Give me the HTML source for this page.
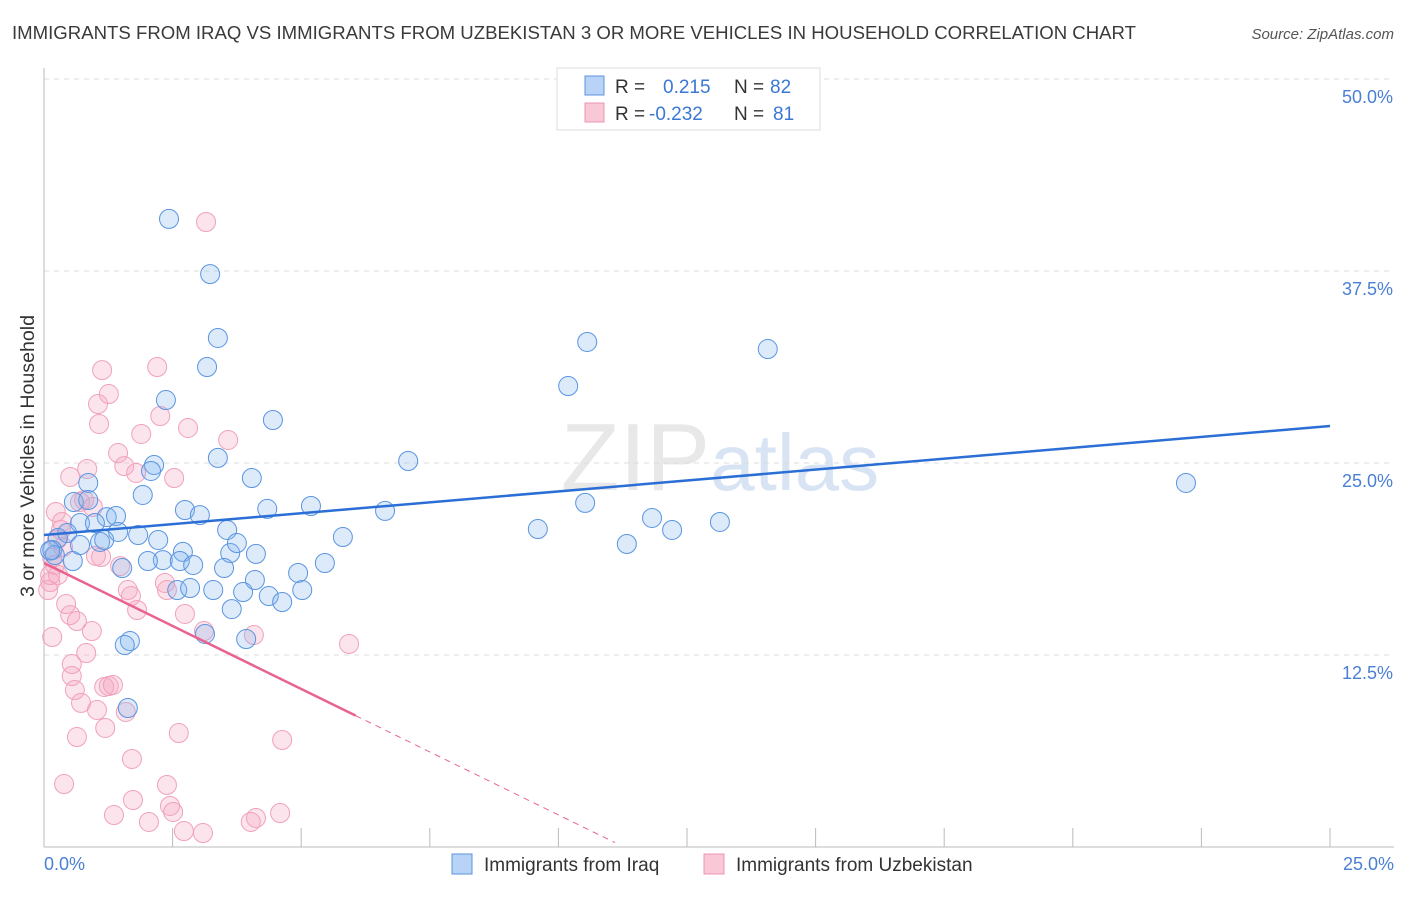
<!DOCTYPE html>
<html><head><meta charset="utf-8"><style>
body{margin:0;background:#fff;font-family:"Liberation Sans",sans-serif}
svg text{font-family:"Liberation Sans",sans-serif}
</style></head><body>
<svg id="chart" width="1406" height="892" xmlns="http://www.w3.org/2000/svg">
<text x="12" y="39" font-size="18.6" fill="#3a3a3a">IMMIGRANTS FROM IRAQ VS IMMIGRANTS FROM UZBEKISTAN 3 OR MORE VEHICLES IN HOUSEHOLD CORRELATION CHART</text>
<text x="1394" y="39" font-size="15" fill="#555" text-anchor="end" font-style="italic">Source: ZipAtlas.com</text>
<text x="720" y="490" font-size="96" fill="#e8e8e8" text-anchor="middle" font-family="Liberation Serif">ZIP<tspan fill="#d8e4f4" font-family="Liberation Sans" font-size="80">atlas</tspan></text>
<g id="grid"></g><g id="axes"></g><g id="marks"></g>
<text transform="translate(34,456) rotate(-90)" font-size="19.6" fill="#333" text-anchor="middle">3 or more Vehicles in Household</text>
<g>
<rect x="557" y="68" width="263" height="62" fill="#fff" stroke="#ddd"/>
<rect x="585" y="76" width="19" height="19" fill="#b8d3f5" stroke="#5b93dd"/>
<rect x="585" y="103" width="19" height="19" fill="#f9c8d6" stroke="#ec95b0"/>
<text x="615" y="93" font-size="19" fill="#333">R =</text><text x="663" y="93" font-size="19" fill="#3a78d4">0.215</text>
<text x="734" y="93" font-size="19" fill="#333">N =</text><text x="770" y="93" font-size="19" fill="#3a78d4">82</text>
<text x="615" y="120" font-size="19" fill="#333">R =</text><text x="649" y="120" font-size="19" fill="#3a78d4">-0.232</text>
<text x="734" y="120" font-size="19" fill="#333">N =</text><text x="773" y="120" font-size="19" fill="#3a78d4">81</text>
</g>
<g>
<rect x="452" y="854" width="20" height="20" fill="#b8d3f5" stroke="#5b93dd"/>
<text x="484" y="871" font-size="19" fill="#333">Immigrants from Iraq</text>
<rect x="704" y="854" width="20" height="20" fill="#f9c8d6" stroke="#ec95b0"/>
<text x="736" y="871" font-size="19" fill="#333">Immigrants from Uzbekistan</text>
</g>
</svg>
<script>
const iraqX=[2.43,3.23,3.38,3.17,2.37,4.45,3.38,4.04,2.14,2.08,1.92,0.86,0.58,0.86,1.22,1.40,0.70,0.99,0.45,0.27,0.16,0.21,0.56,0.70,1.09,1.17,1.44,1.83,2.22,2.74,3.03,3.56,4.34,5.19,5.81,6.63,7.08,9.60,10.52,10.19,10.56,14.07,11.82,12.21,13.14,11.33,22.20,3.62,4.12,2.70,2.31,2.64,2.90,2.02,1.52,3.50,4.10,4.94,5.46,2.59,2.84,3.29,3.87,4.37,4.63,5.02,3.65,3.13,3.93,1.67,1.57,1.63,3.75,0.12];
const iraqY=[40.89,37.30,33.14,31.25,29.10,27.80,25.33,24.02,24.87,24.48,22.92,23.70,22.46,22.59,21.48,21.55,21.09,21.09,20.44,20.12,19.34,19.01,18.62,19.66,19.86,19.99,20.51,20.31,19.99,21.94,21.61,20.64,22.01,22.20,20.18,21.88,25.13,20.70,22.40,30.01,32.88,32.42,21.42,20.64,21.16,19.73,23.70,19.14,19.08,19.21,18.68,18.62,18.36,18.62,18.16,18.16,17.38,17.84,18.49,16.73,16.86,16.73,16.60,16.34,15.95,16.73,15.49,13.87,13.54,13.41,13.15,9.05,19.79,19.3];
const uzbX=[3.15,2.20,1.13,1.26,1.05,1.07,2.26,2.80,3.58,1.89,1.44,1.56,1.79,2.53,0.84,0.51,0.78,0.70,0.95,0.23,0.35,0.33,0.25,0.37,0.16,0.21,0.27,0.12,0.08,1.48,1.01,1.11,1.63,1.69,1.81,2.35,2.39,3.11,4.08,5.93,0.43,0.51,0.64,0.93,0.16,0.82,0.54,0.54,0.60,0.72,1.03,1.59,1.17,1.26,1.34,1.19,0.64,2.62,4.63,1.71,2.39,0.39,1.73,2.45,2.51,1.36,2.04,2.72,3.09,4.02,4.12,4.59,2.74,0.12];
const uzbY=[40.69,31.25,31.05,29.49,28.84,27.54,28.06,27.28,26.50,26.89,25.65,24.80,24.35,24.02,24.61,24.09,22.59,22.46,22.14,21.81,21.16,20.64,19.99,19.53,18.82,18.36,17.71,17.25,16.73,18.29,18.95,18.88,16.73,16.34,15.43,17.19,16.73,14.06,13.80,13.22,15.82,15.10,14.71,14.06,13.67,12.63,11.91,11.13,10.22,9.38,8.92,8.79,10.42,10.48,10.55,7.75,7.16,7.42,6.97,5.73,4.04,4.10,3.06,2.67,2.28,2.08,1.63,1.04,0.91,1.63,1.89,2.21,15.17,17.7];
const iraqTrend=[20.31,27.41];   // y at x=0 and x=25
const uzbTrend=[18.49,-1.64];     // intercept, slope per %
const yTicks=[12.5,25,37.5,50];
const xTicks=[0,2.5,5,7.5,10,12.5,15,17.5,20,22.5,25];
const NS='http://www.w3.org/2000/svg';
const sx=v=>44+v*51.44, sy=v=>847-v*15.36;
function mk(tag,attrs,parent){const e=document.createElementNS(NS,tag);for(const k in attrs)e.setAttribute(k,attrs[k]);document.getElementById(parent).appendChild(e);return e;}
yTicks.forEach(t=>{
 const l=mk('line',{x1:44,x2:1394,y1:sy(t),y2:sy(t),stroke:'#ddd','stroke-dasharray':'5,5'},'grid');
 
 
 const tx=mk('text',{x:1393,y:sy(t)+24,'font-size':18,fill:'#4a7fd4','text-anchor':'end'},'axes');
 tx.textContent=t.toFixed(1)+'%';
 
 
});
mk('line',{x1:44,x2:44,y1:68,y2:847,stroke:'#bbb'},'axes');
mk('line',{x1:44,x2:1394,y1:847,y2:847,stroke:'#bbb'},'axes');
xTicks.forEach(t=>{
 const l=mk('line',{x1:sx(t),x2:sx(t),y1:828,y2:847,stroke:'#bbb'},'axes');
 
 
});
[[0,44,'start'],[25,1394,'end']].forEach(([v,x,a])=>{
 const tx=mk('text',{x:x,y:870,'font-size':18,fill:'#4a7fd4','text-anchor':a},'axes');
 tx.textContent=v.toFixed(1)+'%';
 
 
});
uzbX.forEach((x,i)=>{
 const c=mk('circle',{cx:sx(x),cy:sy(uzbY[i]),r:9.5,fill:'rgba(244,165,192,0.3)',stroke:'#f0a2ba','stroke-width':1},'marks');
 
 
});
iraqX.forEach((x,i)=>{
 const c=mk('circle',{cx:sx(x),cy:sy(iraqY[i]),r:9.5,fill:'rgba(130,178,238,0.28)',stroke:'#5a95e2','stroke-width':1},'marks');
 
 
});
const bl=mk('line',{x1:sx(0),y1:sy(iraqTrend[0]),x2:sx(25),y2:sy(iraqTrend[1]),stroke:'#2b6fd6','stroke-width':2.5},'marks');


const pu=x=>uzbTrend[0]+uzbTrend[1]*x;
const pl=mk('line',{x1:sx(0),y1:sy(pu(0)),x2:sx(6.06),y2:sy(pu(6.06)),stroke:'#e8648f','stroke-width':2.5},'marks');


const pd=mk('line',{x1:sx(6.06),y1:sy(pu(6.06)),x2:sx(11.1),y2:sy(pu(11.1)),stroke:'#e8648f','stroke-width':1,'stroke-dasharray':'6,5'},'marks');


</script>
</body></html>
